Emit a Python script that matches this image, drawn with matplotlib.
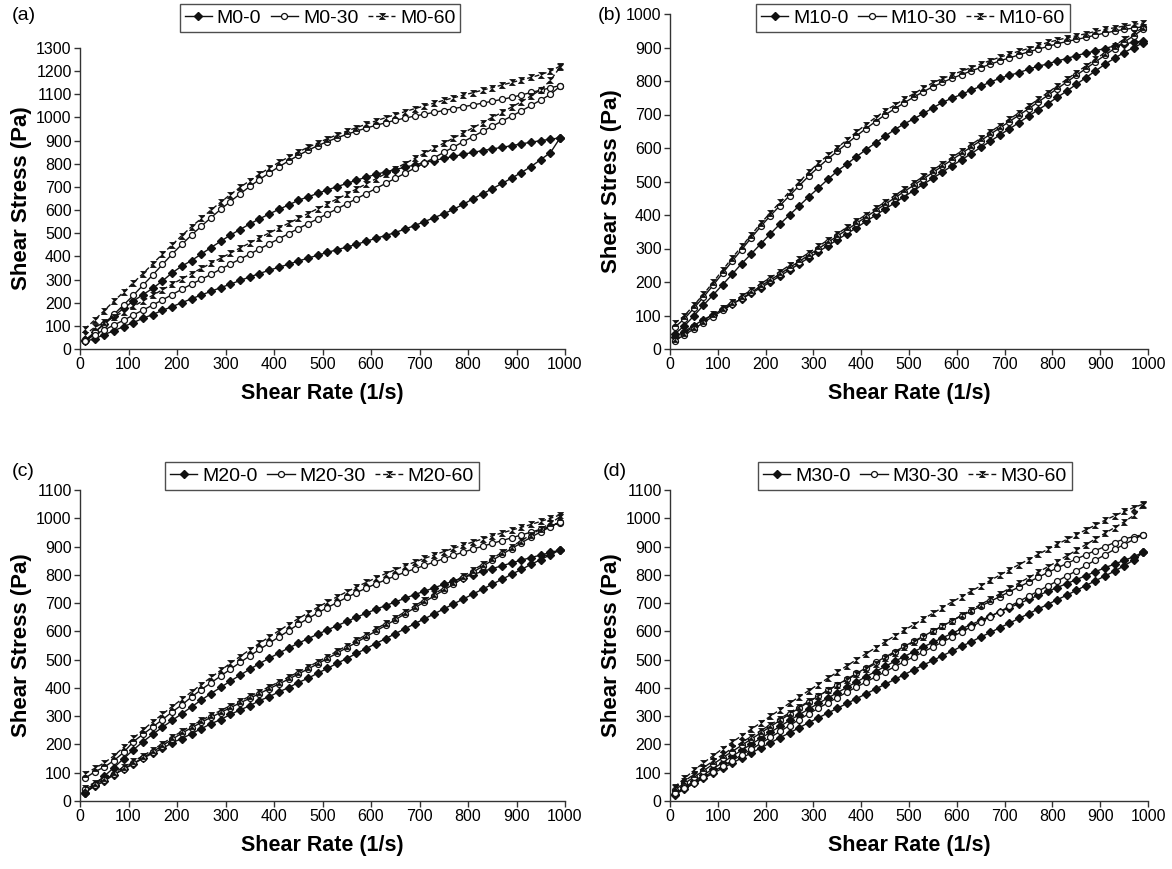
import numpy as np
import matplotlib.pyplot as plt
from matplotlib import font_manager

# shear rate grid (1/s), same for ramp up and ramp down
SHEAR_RATE = [10, 30, 50, 70, 90, 110, 130, 150, 170, 190,
              210, 230, 250, 270, 290, 310, 330, 350, 370, 390,
              410, 430, 450, 470, 490, 510, 530, 550, 570, 590,
              610, 630, 650, 670, 690, 710, 730, 750, 770, 790,
              810, 830, 850, 870, 890, 910, 930, 950, 970, 990]

# (a) M0 -- shear stress (Pa), *_UP = increasing rate, *_DN = decreasing rate (listed by ascending rate)
A_M0_0_UP = [37, 72, 107, 142, 176, 207, 235, 262, 294, 329, 358, 382, 410, 438, 465, 492, 516, 540, 562, 583,
             603, 622, 642, 657, 672, 687, 701, 715, 729, 742, 754, 765, 775, 785, 795, 805, 814, 823, 832, 841,
             849, 857, 864, 871, 878, 886, 893, 900, 906, 912]
A_M0_0_DN = [33, 44, 62, 79, 97, 114, 133, 149, 167, 183, 200, 217, 233, 249, 265, 280, 296, 311, 326, 340,
             353, 366, 380, 392, 405, 417, 429, 440, 452, 465, 478, 490, 503, 518, 533, 550, 567, 584, 603, 625,
             648, 670, 692, 715, 738, 762, 788, 818, 848, 912]
A_M0_30_UP = [33, 72, 110, 150, 190, 232, 276, 320, 365, 410, 452, 492, 530, 567, 603, 637, 670, 702, 732, 760,
              787, 812, 836, 858, 878, 896, 912, 927, 941, 954, 966, 977, 988, 997, 1006, 1014, 1022, 1030, 1038, 1046,
              1054, 1062, 1070, 1078, 1087, 1097, 1108, 1118, 1128, 1138]
A_M0_30_DN = [33, 62, 82, 104, 124, 147, 168, 190, 212, 235, 258, 280, 301, 322, 345, 367, 388, 410, 432, 454,
              476, 498, 520, 541, 562, 584, 605, 627, 649, 671, 693, 715, 737, 759, 781, 803, 826, 849, 872, 895,
              917, 940, 962, 984, 1006, 1028, 1052, 1075, 1100, 1135]
A_M0_60_UP = [86, 125, 166, 207, 246, 286, 326, 368, 410, 450, 490, 528, 564, 600, 634, 667, 698, 727, 755, 781,
              806, 829, 851, 871, 890, 908, 925, 941, 956, 971, 985, 999, 1012, 1025, 1038, 1050, 1062, 1074, 1085, 1096,
              1107, 1118, 1129, 1140, 1151, 1162, 1173, 1185, 1200, 1222]
A_M0_60_DN = [62, 93, 115, 139, 161, 184, 208, 232, 256, 280, 303, 326, 348, 370, 392, 414, 436, 458, 480, 501,
              522, 543, 564, 585, 606, 627, 648, 669, 691, 713, 735, 757, 779, 801, 823, 845, 867, 889, 911, 933,
              955, 978, 1000, 1022, 1045, 1068, 1093, 1120, 1160, 1218]

# (b) M10
B_M10_0_UP = [45, 69, 99, 131, 161, 192, 223, 255, 284, 314, 344, 373, 400, 427, 454, 480, 506, 531, 552, 574,
              595, 615, 635, 655, 672, 687, 703, 720, 736, 749, 760, 773, 784, 797, 808, 817, 825, 835, 844, 851,
              860, 867, 876, 883, 890, 897, 905, 910, 916, 919]
B_M10_0_DN = [35, 52, 70, 88, 102, 118, 135, 150, 166, 183, 200, 218, 236, 254, 272, 290, 308, 326, 344, 362,
              381, 399, 418, 436, 455, 473, 492, 510, 528, 547, 565, 583, 602, 620, 639, 657, 676, 695, 714, 732,
              751, 770, 790, 810, 830, 850, 868, 885, 900, 914]
B_M10_30_UP = [65, 90, 122, 155, 190, 226, 262, 297, 332, 366, 398, 428, 458, 487, 516, 542, 567, 590, 613, 636,
               658, 679, 699, 717, 735, 752, 768, 783, 796, 808, 819, 830, 840, 850, 860, 869, 878, 887, 895, 903,
               911, 918, 924, 930, 937, 943, 949, 954, 958, 962]
B_M10_30_DN = [25, 42, 60, 79, 97, 115, 133, 151, 169, 188, 206, 224, 243, 261, 280, 299, 318, 337, 356, 375,
               394, 413, 432, 451, 470, 489, 508, 527, 546, 565, 584, 603, 622, 641, 660, 679, 698, 717, 737, 757,
               777, 797, 817, 837, 857, 877, 897, 916, 935, 955]
B_M10_60_UP = [77, 99, 131, 163, 199, 235, 272, 306, 341, 375, 407, 438, 470, 498, 528, 554, 578, 601, 624, 648,
               670, 691, 711, 728, 746, 762, 779, 795, 807, 819, 829, 840, 851, 861, 871, 880, 889, 897, 906, 915,
               922, 929, 935, 941, 948, 954, 959, 964, 969, 973]
B_M10_60_DN = [30, 48, 66, 85, 103, 121, 140, 158, 176, 195, 213, 231, 250, 268, 287, 306, 325, 344, 363, 382,
               401, 420, 439, 458, 477, 496, 515, 534, 553, 572, 591, 610, 629, 648, 667, 686, 705, 725, 745, 765,
               785, 805, 825, 845, 865, 885, 905, 925, 942, 960]

# (c) M20
C_M20_0_UP = [29, 58, 88, 118, 150, 181, 210, 236, 261, 285, 309, 333, 357, 380, 402, 424, 445, 466, 486, 505,
              523, 541, 558, 574, 590, 605, 620, 635, 650, 664, 678, 691, 704, 717, 730, 742, 754, 766, 778, 790,
              801, 812, 822, 832, 842, 852, 861, 870, 879, 888]
C_M20_0_DN = [29, 52, 70, 93, 113, 131, 151, 169, 186, 206, 221, 238, 256, 273, 288, 306, 322, 337, 355, 369,
              386, 401, 419, 434, 452, 469, 487, 504, 522, 539, 557, 574, 592, 609, 627, 644, 662, 679, 697, 714,
              732, 749, 767, 784, 802, 819, 837, 854, 871, 888]
C_M20_30_UP = [80, 103, 120, 143, 172, 210, 236, 262, 288, 315, 340, 368, 394, 418, 442, 466, 490, 513, 536, 558,
               580, 602, 625, 645, 665, 684, 702, 720, 737, 753, 768, 782, 796, 809, 821, 833, 845, 857, 869, 880,
               891, 901, 911, 921, 931, 941, 951, 961, 972, 985]
C_M20_30_DN = [42, 58, 76, 94, 113, 133, 153, 174, 196, 218, 240, 259, 278, 296, 313, 330, 347, 363, 380, 397,
               414, 431, 449, 467, 485, 504, 523, 542, 561, 581, 601, 621, 641, 662, 683, 704, 725, 746, 767, 788,
               809, 830, 851, 872, 893, 913, 933, 952, 970, 988]
C_M20_60_UP = [97, 115, 135, 160, 190, 222, 252, 280, 307, 334, 360, 386, 412, 437, 462, 487, 511, 535, 558, 580,
               602, 624, 645, 665, 685, 704, 722, 740, 757, 773, 789, 804, 818, 832, 845, 858, 870, 882, 894, 905,
               916, 927, 938, 948, 958, 968, 978, 989, 1000, 1012]
C_M20_60_DN = [47, 65, 83, 101, 120, 140, 160, 181, 203, 225, 247, 266, 285, 303, 320, 337, 354, 370, 387, 404,
               421, 438, 456, 474, 492, 511, 530, 549, 568, 588, 608, 628, 648, 669, 690, 711, 732, 753, 774, 795,
               816, 837, 858, 879, 900, 921, 942, 962, 983, 1005]

# (d) M30
D_M30_0_UP = [25, 48, 70, 92, 114, 136, 158, 180, 201, 222, 243, 264, 285, 305, 325, 345, 364, 383, 402, 421,
              440, 458, 476, 494, 511, 528, 545, 561, 577, 593, 609, 624, 639, 654, 669, 684, 698, 713, 727, 741,
              755, 769, 783, 797, 811, 825, 838, 851, 864, 880]
D_M30_0_DN = [22, 42, 62, 80, 98, 116, 134, 152, 170, 188, 206, 224, 241, 259, 277, 294, 311, 328, 345, 362,
              379, 396, 413, 430, 447, 464, 481, 497, 514, 530, 547, 563, 580, 596, 613, 629, 646, 662, 679, 695,
              712, 728, 745, 762, 779, 796, 813, 832, 852, 880]
D_M30_30_UP = [40, 62, 84, 107, 130, 153, 175, 197, 219, 241, 263, 285, 307, 329, 350, 371, 391, 411, 431, 451,
               471, 490, 509, 528, 547, 565, 583, 601, 619, 637, 655, 672, 689, 706, 723, 740, 757, 774, 791, 808,
               824, 840, 856, 871, 886, 900, 914, 927, 935, 942]
D_M30_30_DN = [28, 45, 65, 85, 104, 123, 143, 163, 183, 204, 225, 246, 267, 288, 308, 328, 347, 366, 385, 403,
               421, 439, 457, 475, 493, 510, 527, 545, 562, 580, 598, 616, 634, 652, 670, 688, 706, 724, 742, 760,
               778, 796, 814, 833, 852, 871, 890, 907, 925, 942]
D_M30_60_UP = [50, 80, 108, 135, 160, 185, 208, 231, 254, 277, 300, 323, 346, 368, 390, 412, 434, 456, 478, 500,
               521, 542, 563, 584, 604, 624, 644, 664, 684, 704, 723, 742, 761, 780, 799, 818, 836, 854, 872, 890,
               908, 925, 942, 959, 976, 993, 1009, 1024, 1038, 1050]
D_M30_60_DN = [45, 70, 94, 118, 141, 164, 186, 207, 228, 249, 270, 291, 312, 332, 352, 372, 391, 410, 429, 448,
               467, 486, 505, 524, 543, 562, 581, 600, 619, 638, 657, 676, 695, 714, 733, 752, 771, 790, 809, 828,
               847, 867, 887, 907, 927, 947, 967, 987, 1010, 1047]

PANELS = [
    ("(a)", ["M0-0", "M0-30", "M0-60"],
     [(A_M0_0_UP, A_M0_0_DN), (A_M0_30_UP, A_M0_30_DN), (A_M0_60_UP, A_M0_60_DN)], 1300),
    ("(b)", ["M10-0", "M10-30", "M10-60"],
     [(B_M10_0_UP, B_M10_0_DN), (B_M10_30_UP, B_M10_30_DN), (B_M10_60_UP, B_M10_60_DN)], 1000),
    ("(c)", ["M20-0", "M20-30", "M20-60"],
     [(C_M20_0_UP, C_M20_0_DN), (C_M20_30_UP, C_M20_30_DN), (C_M20_60_UP, C_M20_60_DN)], 1100),
    ("(d)", ["M30-0", "M30-30", "M30-60"],
     [(D_M30_0_UP, D_M30_0_DN), (D_M30_30_UP, D_M30_30_DN), (D_M30_60_UP, D_M30_60_DN)], 1100),
]

W, H = 1172, 869


def pick_font(names):
    for n in names:
        try:
            font_manager.findfont(n, fallback_to_default=False)
            return n
        except Exception:
            pass
    return "DejaVu Sans"


NARROW = pick_font(["Liberation Sans Narrow", "Liberation Sans"])
ARIAL = pick_font(["Liberation Sans", "Arial"])
plt.rcParams['font.family'] = [ARIAL, 'DejaVu Sans']

INK = '#111111'
hourglass = [(-1, 1), (1, 1), (-1, -1), (1, -1)]
STYLES = [
    dict(marker='D', ms=3.8, mfc=INK, mec=INK, ls='-'),
    dict(marker='o', ms=4.3, mfc='white', mec=INK, mew=0.9, ls='-'),
    dict(marker=hourglass, ms=4.3, mfc=INK, mec=INK, mew=0.6, ls=(0, (3.5, 2))),
]

# pixel boxes: left, right, top, bottom (axis data extents)
BOXES = [(80, 565, 48, 349), (670, 1148, 14, 349), (80, 565, 490, 801), (670, 1148, 490, 801)]
LEGEND_C = [(320, 18), (913, 18), (322, 476), (915, 476)]
LABEL_POS = [(12, 16), (598, 16), (12, 472), (603, 472)]

fig = plt.figure(figsize=(W / 100, H / 100), dpi=100)
x_loop = SHEAR_RATE + SHEAR_RATE[::-1]

for k, (tag, names, series, ymax) in enumerate(PANELS):
    l, r, t, b = BOXES[k]
    ax = fig.add_axes([l / W, 1 - b / H, (r - l) / W, (b - t) / H])
    handles = []
    for (up, dn), nm, st in zip(series, names, STYLES):
        y_loop = up + dn[::-1]
        h, = ax.plot(x_loop, y_loop, color=INK, lw=1.0, label=nm, **st)
        handles.append(h)
    ax.set_xlim(0, 1000)
    ax.set_ylim(0, ymax)
    ax.set_xticks(range(0, 1001, 100))
    ax.set_yticks(range(0, ymax + 1, 100))
    for s in ['top', 'right']:
        ax.spines[s].set_visible(False)
    for s in ['left', 'bottom']:
        ax.spines[s].set_color('#333333')
        ax.spines[s].set_linewidth(1.0)
    ax.tick_params(direction='out', length=4, width=1, color='#333333', pad=2)
    for lab in ax.get_xticklabels() + ax.get_yticklabels():
        lab.set_family(NARROW)
        lab.set_fontsize(11.5)
    ax.set_xlabel("Shear Rate (1/s)", family=NARROW, fontsize=15.5, fontweight='bold')
    ax.set_ylabel("Shear Stress (Pa)", family=ARIAL, fontsize=16, fontweight='bold')
    ax.xaxis.set_label_coords(0.5, -34 / (b - t))
    ax.yaxis.set_label_coords(-48 / (r - l), 0.5)
    cx, cy = LEGEND_C[k]
    leg = ax.legend(handles=handles, loc='center', bbox_to_anchor=(cx / W, 1 - cy / H),
                    bbox_transform=fig.transFigure, ncol=3, fontsize=14, frameon=True,
                    fancybox=False, edgecolor='#222222', handlelength=1.4, handletextpad=0.25,
                    columnspacing=0.5, borderpad=0.25, borderaxespad=0)
    leg.get_frame().set_linewidth(1.0)
    lx, ly = LABEL_POS[k]
    fig.text(lx / W, 1 - ly / H, tag, fontsize=14, ha='left', va='center')

fig.savefig("out.png", dpi=100)
